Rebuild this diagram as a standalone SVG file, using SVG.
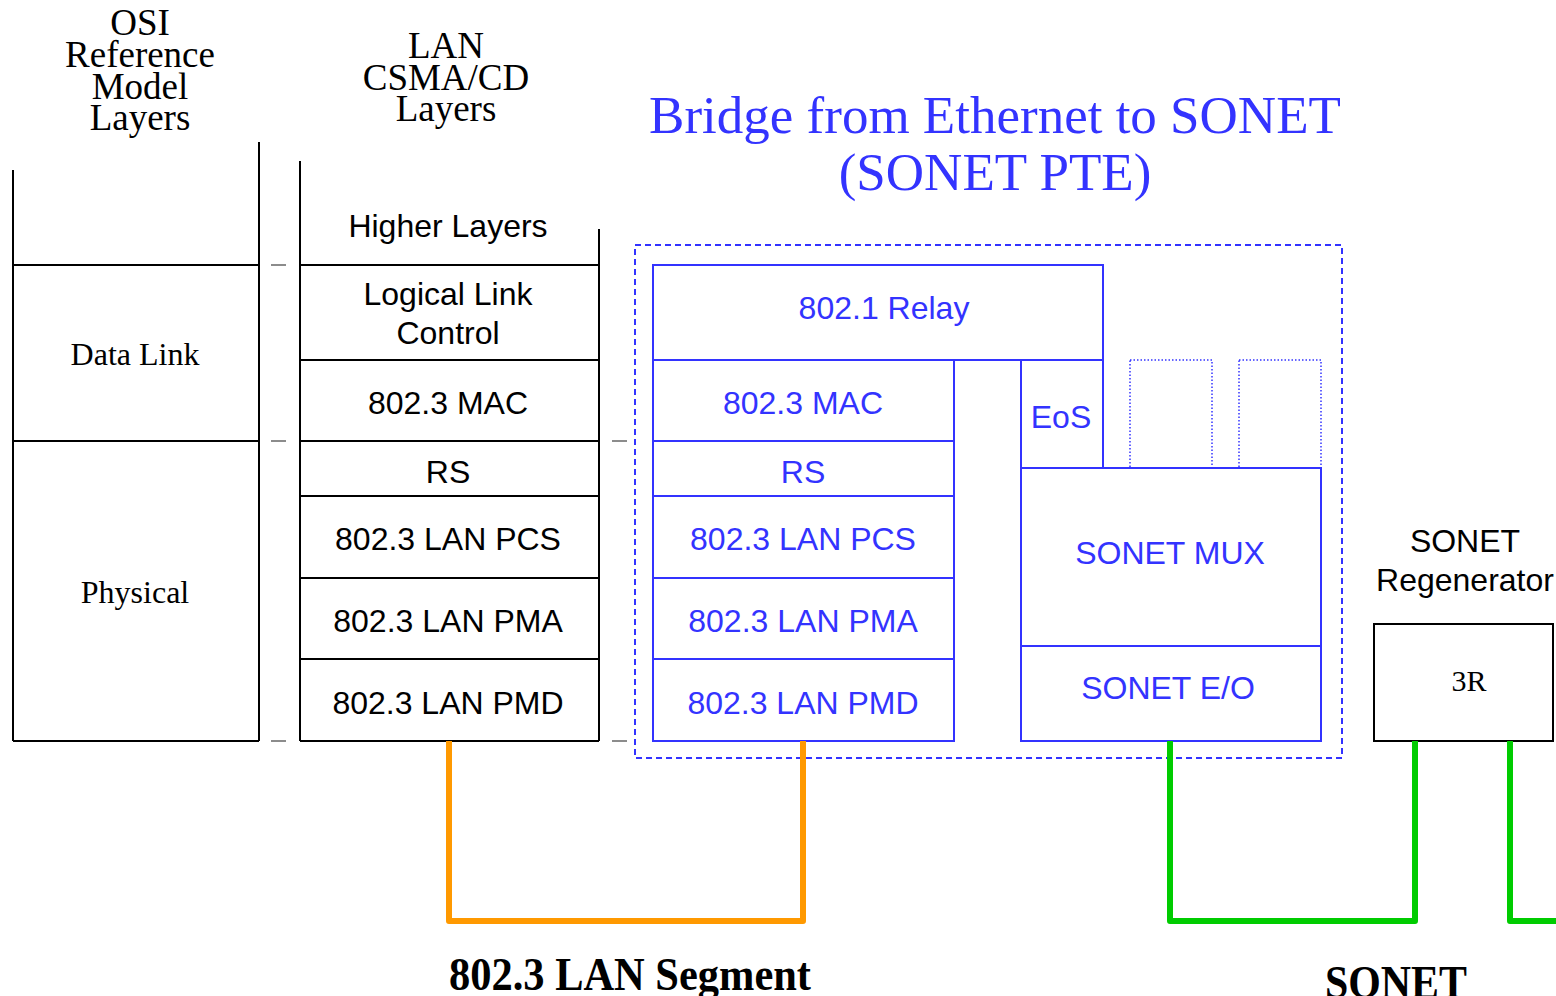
<svg xmlns="http://www.w3.org/2000/svg" width="1556" height="996" viewBox="0 0 1556 996">
  <style>
    .ln { stroke: #000; stroke-width: 2; fill: none; }
    .tick { stroke: #666; stroke-width: 1.5; }
    .bbox { stroke: #3333ff; stroke-width: 2; fill: none; }
    .dot { stroke: #3333ff; stroke-width: 1.5; stroke-dasharray: 1.5 2; fill: none; }
    .sans { font-family: "Liberation Sans", Arial, sans-serif; font-size: 32px; text-anchor: middle; }
    .serif { font-family: "Liberation Serif", "Times New Roman", serif; text-anchor: middle; }
    .blk { fill: #000; }
    .blu { fill: #3333ff; }
    .bold { font-family: "Liberation Serif", "Times New Roman", serif; font-weight: bold; font-size: 46px; fill: #000; }
  </style>

  <rect width="1556" height="996" fill="#fff"/>

  <!-- OSI reference model column -->
  <g id="osi-column">
    <text class="serif blk" font-size="37" x="140" y="35">OSI</text>
    <text class="serif blk" font-size="37" x="140" y="67">Reference</text>
    <text class="serif blk" font-size="37" x="140" y="99">Model</text>
    <text class="serif blk" font-size="37" x="140" y="130">Layers</text>
    <line class="ln" x1="13" y1="170" x2="13" y2="741"/>
    <line class="ln" x1="259" y1="142" x2="259" y2="741"/>
    <line class="ln" x1="13" y1="265" x2="259" y2="265"/>
    <line class="ln" x1="13" y1="441" x2="259" y2="441"/>
    <line class="ln" x1="13" y1="741" x2="259" y2="741"/>
    <text class="serif blk" font-size="32" x="135" y="365">Data Link</text>
    <text class="serif blk" font-size="32" x="135" y="603">Physical</text>
  </g>

  <!-- level ticks between columns -->
  <g id="ticks">
    <line class="tick" x1="271" y1="265" x2="286" y2="265"/>
    <line class="tick" x1="271" y1="441" x2="286" y2="441" stroke="#222"/>
    <line class="tick" x1="271" y1="741" x2="286" y2="741"/>
    <line class="tick" x1="612" y1="441" x2="627" y2="441" stroke="#222"/>
    <line class="tick" x1="612" y1="741" x2="627" y2="741"/>
  </g>

  <!-- LAN CSMA/CD layer stack -->
  <g id="lan-column">
    <text class="serif blk" font-size="37" x="446" y="58">LAN</text>
    <text class="serif blk" font-size="37" x="446" y="90">CSMA/CD</text>
    <text class="serif blk" font-size="37" x="446" y="121">Layers</text>
    <line class="ln" x1="300" y1="161" x2="300" y2="741"/>
    <line class="ln" x1="599" y1="229" x2="599" y2="741"/>
    <line class="ln" x1="300" y1="265" x2="599" y2="265"/>
    <line class="ln" x1="300" y1="360" x2="599" y2="360"/>
    <line class="ln" x1="300" y1="441" x2="599" y2="441"/>
    <line class="ln" x1="300" y1="496" x2="599" y2="496"/>
    <line class="ln" x1="300" y1="578" x2="599" y2="578"/>
    <line class="ln" x1="300" y1="659" x2="599" y2="659"/>
    <line class="ln" x1="300" y1="741" x2="599" y2="741"/>
    <text class="sans blk" x="448" y="237">Higher Layers</text>
    <text class="sans blk" x="448" y="305">Logical Link</text>
    <text class="sans blk" x="448" y="344">Control</text>
    <text class="sans blk" x="448" y="414">802.3 MAC</text>
    <text class="sans blk" x="448" y="483">RS</text>
    <text class="sans blk" x="448" y="550">802.3 LAN PCS</text>
    <text class="sans blk" x="448" y="632">802.3 LAN PMA</text>
    <text class="sans blk" x="448" y="714">802.3 LAN PMD</text>
  </g>

  <!-- Bridge (SONET PTE) -->
  <g id="bridge">
    <text class="serif blu" font-size="53" x="995" y="133">Bridge from Ethernet to SONET</text>
    <text class="serif blu" font-size="53" x="995" y="190">(SONET PTE)</text>
    <rect x="635" y="245" width="707" height="513" fill="none" stroke="#3333ff" stroke-width="2" stroke-dasharray="6 4"/>

    <g id="relay">
      <rect class="bbox" x="653" y="265" width="450" height="95"/>
      <text class="sans blu" x="884" y="319">802.1 Relay</text>
    </g>

    <g id="ether-stack">
      <rect class="bbox" x="653" y="360" width="301" height="381"/>
      <line class="bbox" x1="653" y1="441" x2="954" y2="441"/>
      <line class="bbox" x1="653" y1="496" x2="954" y2="496"/>
      <line class="bbox" x1="653" y1="578" x2="954" y2="578"/>
      <line class="bbox" x1="653" y1="659" x2="954" y2="659"/>
      <text class="sans blu" x="803" y="414">802.3 MAC</text>
      <text class="sans blu" x="803" y="483">RS</text>
      <text class="sans blu" x="803" y="550">802.3 LAN PCS</text>
      <text class="sans blu" x="803" y="632">802.3 LAN PMA</text>
      <text class="sans blu" x="803" y="714">802.3 LAN PMD</text>
    </g>

    <g id="eos">
      <rect class="bbox" x="1021" y="360" width="82" height="108"/>
      <text class="sans blu" x="1061" y="428">EoS</text>
    </g>

    <g id="spare-slots">
      <rect class="dot" x="1130" y="360" width="82" height="108"/>
      <rect class="dot" x="1239" y="360" width="82" height="108"/>
    </g>

    <g id="sonet-mux">
      <rect class="bbox" x="1021" y="468" width="300" height="178"/>
      <text class="sans blu" x="1170" y="564">SONET MUX</text>
    </g>

    <g id="sonet-eo">
      <rect class="bbox" x="1021" y="646" width="300" height="95"/>
      <text class="sans blu" x="1168" y="699">SONET E/O</text>
    </g>
  </g>

  <!-- SONET regenerator -->
  <g id="regenerator">
    <text class="sans blk" font-size="31" x="1465" y="552">SONET</text>
    <text class="sans blk" font-size="31" x="1465" y="591">Regenerator</text>
    <rect x="1374" y="624" width="179" height="117" fill="#fff" stroke="#000" stroke-width="2"/>
    <text class="serif blk" font-size="30" x="1469" y="691">3R</text>
  </g>

  <!-- links -->
  <g id="connectors" fill="none" stroke-width="6" stroke-linejoin="round">
    <polyline stroke="#ff9900" points="449,741 449,921 803,921 803,741"/>
    <polyline stroke="#00cc00" points="1170,741 1170,921 1415,921 1415,741"/>
    <polyline stroke="#00cc00" points="1510,741 1510,921 1560,921"/>
  </g>

  <g id="labels">
    <text class="bold" x="449" y="990" textLength="362" lengthAdjust="spacingAndGlyphs">802.3 LAN Segment</text>
    <text class="bold" x="1325" y="998" textLength="142" lengthAdjust="spacingAndGlyphs">SONET</text>
  </g>
</svg>
